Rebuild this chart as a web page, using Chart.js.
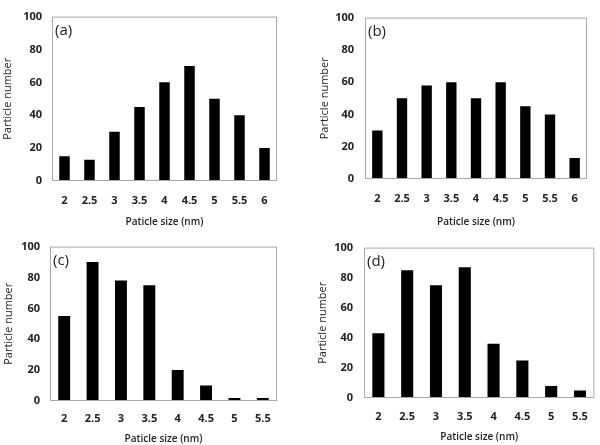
<!DOCTYPE html>
<html>
<head>
<meta charset="utf-8">
<script src="https://cdn.jsdelivr.net/npm/chart.js@4/dist/chart.umd.min.js"></script>
<style>
    body { margin: 0; background: #fff; }
    #wrap { position: relative; width: 600px; height: 445px; }
    .panel { position: absolute; }
</style>
</head>
<body>
<div id="wrap"></div>
<script>
// particle size categories (nm)
const sizesLong = ["2", "2.5", "3", "3.5", "4", "4.5", "5", "5.5", "6"];
const sizesShort = ["2", "2.5", "3", "3.5", "4", "4.5", "5", "5.5"];

// particle counts
const countsA = [15, 13, 30, 45, 60, 70, 50, 40, 20];
const countsB = [30, 50, 58, 60, 50, 60, 45, 40, 13];
const countsC = [55, 90, 78, 75, 20, 10, 2, 2];
const countsD = [43, 85, 75, 87, 36, 25, 8, 5];

const yTicks = [0, 20, 40, 60, 80, 100];

const xTitle = "Paticle size (nm)";
const yTitle = "Particle number";

// box + panel letter plugin
const boxPlugin = {
    id: "box",
    afterDraw(chart, args, opts) {
        const { ctx, chartArea } = chart;
        ctx.save();
        ctx.strokeStyle = "#a8a8a8";
        ctx.lineWidth = 1;
        ctx.strokeRect(chartArea.left + 0.5, chartArea.top + 0.5,
            chartArea.right - chartArea.left - 1, chartArea.bottom - chartArea.top - 1);
        ctx.fillStyle = "#222";
        ctx.font = "15px 'Open Sans', sans-serif";
        ctx.textBaseline = "middle";
        ctx.fillText(opts.letter, chartArea.left + 3, chartArea.top + 14);
        ctx.restore();
    },
};

// panel geometry: container box and wanted plot area
function makePanel(p, labels, values, letter) {
    const div = document.createElement("div");
    div.className = "panel";
    div.style.left = p.cx + "px";
    div.style.top = p.cy + "px";
    div.style.width = p.cw + "px";
    div.style.height = p.ch + "px";
    const canvas = document.createElement("canvas");
    div.appendChild(canvas);
    document.getElementById("wrap").appendChild(div);

    const yw = p.L - p.cx;
    const xh = p.cy + p.ch - p.B;

    return new Chart(canvas, {
        type: "bar",
        data: {
            labels: labels,
            datasets: [{
                data: values,
                backgroundColor: "#000",
                borderWidth: 0,
                barPercentage: 0.42,
                categoryPercentage: 1,
            }],
        },
        options: {
            responsive: true,
            maintainAspectRatio: false,
            animation: false,
            layout: {
                padding: { top: p.T - p.cy, right: p.cx + p.cw - p.R, bottom: 0, left: 0 },
            },
            scales: {
                x: {
                    grid: { display: false, drawTicks: false },
                    border: { display: false },
                    ticks: {
                        color: "#222",
                        padding: p.xPad,
                        font: { family: "'Open Sans', sans-serif", size: 11, weight: "bold" },
                    },
                    title: {
                        display: true,
                        text: xTitle,
                        color: "#222",
                        font: { family: "'Open Sans', sans-serif", size: 10, weight: "600" },
                        padding: { top: 0, bottom: p.tPad },
                    },
                    afterFit(scale) { scale.height = xh; },
                },
                y: {
                    min: 0,
                    max: 100,
                    grid: { display: false, drawTicks: false },
                    border: { display: false },
                    afterBuildTicks(scale) {
                        scale.ticks = yTicks.map(v => ({ value: v }));
                    },
                    ticks: {
                        color: "#222",
                        padding: p.yPad,
                        font: { family: "'Open Sans', sans-serif", size: 11, weight: "bold" },
                    },
                    title: {
                        display: true,
                        text: yTitle,
                        color: "#222",
                        font: { family: "'Open Sans', sans-serif", size: 11 },
                        padding: { top: p.yt, bottom: 0 },
                    },
                    afterFit(scale) { scale.width = yw; },
                },
            },
            plugins: {
                legend: { display: false },
                tooltip: { enabled: false },
                box: { letter: letter },
            },
        },
        plugins: [boxPlugin],
    });
}

makePanel({ cx: 0, cy: 0, cw: 300, ch: 230, L: 52, R: 277, T: 15, B: 181, xPad: 13, tPad: 2, yPad: 10, yt: 1 },
    sizesLong, countsA, "(a)");
makePanel({ cx: 300, cy: 0, cw: 300, ch: 230, L: 365, R: 587, T: 12, B: 179, xPad: 13, tPad: 2, yPad: 11, yt: 18 },
    sizesLong, countsB, "(b)");
makePanel({ cx: 0, cy: 230, cw: 300, ch: 215, L: 50, R: 277, T: 246, B: 401, xPad: 11, tPad: 0, yPad: 10, yt: 2 },
    sizesShort, countsC, "(c)");
makePanel({ cx: 300, cy: 230, cw: 300, ch: 213, L: 364, R: 597, T: 243, B: 398, xPad: 12, tPad: 0, yPad: 11, yt: 16 },
    sizesShort, countsD, "(d)");
</script>
</body>
</html>
